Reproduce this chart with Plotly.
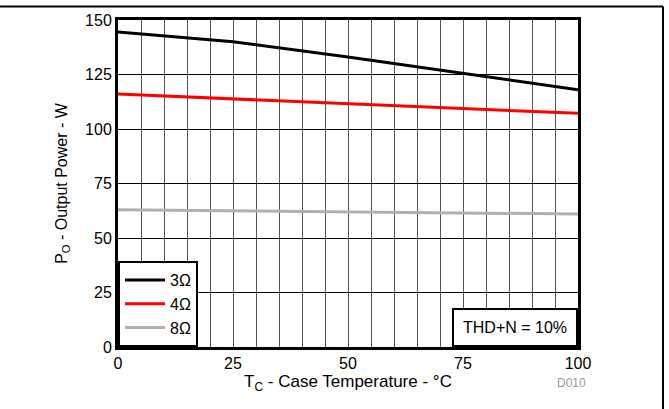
import plotly.graph_objects as go

# case temperature (°C)
temp = [0, 25, 50, 75, 100]

# output power (W) per load
p_3ohm = [144.5, 140, 133, 125.5, 118]
p_4ohm = [116, 113.8, 111.6, 109.4, 107.2]
p_8ohm = [63, 62.5, 62, 61.5, 61]

series = [
    ("3Ω", p_3ohm, "#000000"),
    ("4Ω", p_4ohm, "#ff0000"),
    ("8Ω", p_8ohm, "#b0b0b0"),
]

FONT = "Liberation Sans, Arial, sans-serif"

fig = go.Figure()

for name, vals, color in series:
    fig.add_trace(go.Scatter(
        x=temp, y=vals, name=name, mode="lines",
        line=dict(color=color, width=3),
    ))

fig.update_layout(
    width=669, height=409,
    margin=dict(l=118, r=91, t=20, b=62, autoexpand=False),
    paper_bgcolor="white", plot_bgcolor="white",
    font=dict(family=FONT, size=16, color="black"),
    showlegend=True,
    legend=dict(
        x=0, y=0, xanchor="left", yanchor="bottom",
        bgcolor="white", bordercolor="black", borderwidth=2,
        font=dict(size=16), itemwidth=40, tracegroupgap=0,
    ),
)

fig.update_xaxes(
    range=[0, 100], dtick=25, tick0=0,
    showgrid=True, gridcolor="#555555", gridwidth=1,
    minor=dict(dtick=5, showgrid=True, gridcolor="#555555", gridwidth=1),
    showline=True, linecolor="black", linewidth=3, mirror=True,
    ticks="", zeroline=False, automargin=False,
    title=dict(text="T<sub>C</sub> - Case Temperature - °C", standoff=1,
               font=dict(size=17)),
)
fig.update_yaxes(
    range=[0, 150], dtick=25, tick0=0,
    showgrid=True, gridcolor="black", gridwidth=1,
    showline=True, linecolor="black", linewidth=3, mirror=True,
    ticks="", zeroline=False, automargin=False,
    title=dict(text="P<sub>O</sub> - Output Power - W", standoff=14,
               font=dict(size=16)),
)

fig.add_annotation(
    text="THD+N = 10%", xref="paper", yref="paper",
    x=1, y=0, xanchor="right", yanchor="bottom", showarrow=False,
    bgcolor="white", bordercolor="black", borderwidth=2, borderpad=9,
    font=dict(size=16),
)
fig.add_annotation(
    text="D010", xref="paper", yref="paper",
    x=1.0217, y=-0.1376, showarrow=False,
    font=dict(size=12, color="#999999"),
)

# outer frame: top and right lines
fig.add_shape(type="line", xref="paper", yref="paper",
              x0=-0.2565, x1=1.1848, y0=1.041, y1=1.041,
              line=dict(color="black", width=2))
fig.add_shape(type="line", xref="paper", yref="paper",
              x0=1.1848, x1=1.1848, y0=1.041, y1=-0.2,
              line=dict(color="black", width=2))

# page body margin off so the figure sits at the window's corner
fig.write_html("out.html", config={"displayModeBar": False},
               post_script="document.body.style.margin='0';")
